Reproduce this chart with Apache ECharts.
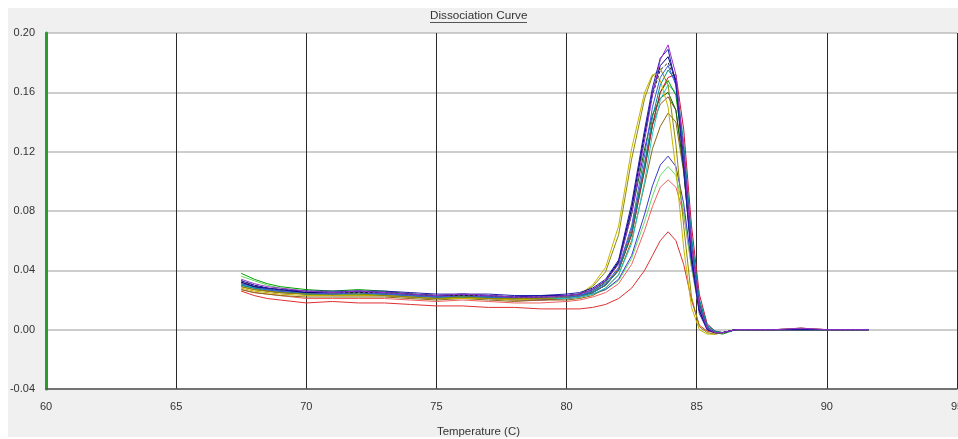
<!DOCTYPE html>
<html>
<head>
<meta charset="utf-8">
<title>Dissociation Curve</title>
<script src="https://cdn.jsdelivr.net/npm/echarts@6/dist/echarts.min.js"></script>
<style>
  html, body { margin: 0; padding: 0; background: #ffffff; }
  #panel { position: absolute; left: 8px; top: 8px; width: 950px; height: 429px; background: #f0f0f0; }
  #chart { position: absolute; left: 0; top: 0; width: 958px; height: 439px; }
</style>
</head>
<body>
<div id="panel"></div>
<div id="chart"></div>
<script>
// Melt temperatures (°C) shared by every well
const temperature = [67.5, 68, 68.5, 69, 70, 71, 72, 73, 74, 75, 76, 77, 78, 79, 80, 80.5, 81, 81.5, 82, 82.5,
  83, 83.3, 83.6, 83.9, 84.2, 84.5, 84.8, 85.1, 85.4, 85.7, 86, 86.5, 87, 88, 89, 90, 91, 91.6];

// -dF/dT for each well
const wellA = [0.034,0.031,0.029,0.028,0.026,0.025,0.026,0.025,0.024,0.023,0.024,0.023,0.022,0.022,0.023,0.024,0.027,0.033,0.044,0.078,
  0.128,0.158,0.182,0.192,0.172,0.118,0.055,0.015,0.001,-0.002,-0.002,0.000,0.000,0.000,0.001,0.000,0.000,0.000];
const wellB = [0.033,0.030,0.028,0.027,0.026,0.026,0.026,0.026,0.025,0.024,0.024,0.024,0.023,0.023,0.024,0.025,0.028,0.034,0.047,0.085,
  0.135,0.163,0.183,0.189,0.165,0.108,0.047,0.011,0.000,-0.002,-0.002,0.000,0.000,0.000,0.000,0.000,0.000,0.000];
const wellC = [0.032,0.029,0.028,0.027,0.025,0.025,0.026,0.025,0.024,0.023,0.024,0.023,0.022,0.023,0.023,0.024,0.027,0.033,0.046,0.082,
  0.132,0.160,0.178,0.184,0.168,0.115,0.050,0.013,0.000,-0.002,-0.002,0.000,0.000,0.000,0.000,0.000,0.000,0.000];
const wellD = [0.031,0.029,0.027,0.026,0.025,0.024,0.025,0.024,0.023,0.022,0.023,0.022,0.022,0.022,0.022,0.023,0.026,0.031,0.042,0.070,
  0.118,0.150,0.170,0.178,0.165,0.120,0.058,0.017,0.002,-0.002,-0.002,0.000,0.000,0.000,0.000,0.000,0.000,0.000];
const wellE = [0.030,0.028,0.027,0.026,0.024,0.024,0.024,0.024,0.023,0.022,0.022,0.022,0.021,0.021,0.022,0.023,0.025,0.030,0.040,0.066,
  0.112,0.143,0.165,0.175,0.168,0.126,0.062,0.020,0.003,-0.001,-0.002,0.000,0.000,0.000,0.000,0.000,0.000,0.000];
const wellF = [0.029,0.027,0.026,0.025,0.024,0.024,0.024,0.023,0.022,0.021,0.022,0.021,0.021,0.021,0.022,0.024,0.029,0.039,0.064,0.115,
  0.156,0.171,0.176,0.165,0.125,0.070,0.022,0.002,-0.002,-0.003,-0.002,0.000,0.000,0.000,0.000,0.000,0.000,0.000];
const wellG = [0.028,0.026,0.025,0.024,0.023,0.023,0.023,0.023,0.022,0.021,0.021,0.021,0.020,0.021,0.022,0.024,0.030,0.042,0.070,0.122,
  0.160,0.172,0.168,0.150,0.108,0.055,0.015,0.000,-0.003,-0.003,-0.002,0.000,0.000,0.000,0.000,0.000,0.000,0.000];
const wellH = [0.038,0.034,0.031,0.029,0.027,0.026,0.027,0.026,0.024,0.023,0.023,0.022,0.021,0.021,0.022,0.023,0.025,0.030,0.040,0.064,
  0.108,0.138,0.160,0.168,0.158,0.118,0.058,0.018,0.002,-0.002,-0.003,0.000,0.000,0.000,0.000,0.000,0.000,0.000];
const wellI = [0.036,0.033,0.030,0.028,0.026,0.025,0.026,0.025,0.024,0.023,0.023,0.022,0.021,0.021,0.021,0.022,0.024,0.027,0.033,0.048,
  0.073,0.090,0.104,0.110,0.104,0.080,0.042,0.013,0.001,-0.002,-0.002,0.000,0.000,0.000,0.000,0.000,0.000,0.000];
const wellJ = [0.030,0.028,0.027,0.026,0.024,0.024,0.024,0.024,0.023,0.022,0.022,0.022,0.021,0.021,0.021,0.022,0.024,0.028,0.037,0.058,
  0.100,0.132,0.155,0.165,0.160,0.122,0.062,0.020,0.003,-0.001,-0.002,0.000,0.000,0.000,0.000,0.000,0.000,0.000];
const wellK = [0.031,0.029,0.027,0.026,0.025,0.024,0.025,0.024,0.023,0.022,0.023,0.022,0.021,0.022,0.022,0.023,0.026,0.032,0.045,0.078,
  0.122,0.145,0.156,0.160,0.148,0.108,0.050,0.014,0.001,-0.002,-0.002,0.000,0.000,0.000,0.000,0.000,0.000,0.000];
const wellL = [0.029,0.027,0.026,0.025,0.024,0.023,0.023,0.023,0.022,0.021,0.022,0.021,0.020,0.020,0.021,0.022,0.025,0.030,0.041,0.068,
  0.112,0.138,0.152,0.157,0.148,0.110,0.052,0.015,0.001,-0.002,-0.002,0.000,0.000,0.000,0.001,0.000,0.000,0.000];
const wellM = [0.027,0.025,0.024,0.023,0.022,0.022,0.022,0.022,0.021,0.020,0.021,0.020,0.019,0.020,0.020,0.021,0.023,0.028,0.037,0.060,
  0.098,0.122,0.137,0.146,0.140,0.106,0.052,0.016,0.002,-0.002,-0.002,0.000,0.000,0.000,0.001,0.000,0.000,0.000];
const wellN = [0.030,0.028,0.026,0.025,0.024,0.023,0.023,0.023,0.022,0.021,0.022,0.021,0.020,0.020,0.021,0.022,0.024,0.027,0.034,0.050,
  0.078,0.097,0.111,0.117,0.110,0.085,0.045,0.014,0.001,-0.002,-0.002,0.000,0.000,0.000,0.000,0.000,0.000,0.000];
const wellO = [0.027,0.025,0.024,0.023,0.021,0.021,0.021,0.021,0.020,0.019,0.020,0.019,0.018,0.018,0.019,0.020,0.022,0.025,0.031,0.044,
  0.067,0.083,0.096,0.101,0.096,0.078,0.042,0.013,0.001,-0.002,-0.002,0.000,0.000,0.000,0.000,0.000,0.000,0.000];
const wellP = [0.026,0.023,0.021,0.020,0.018,0.019,0.018,0.018,0.017,0.016,0.016,0.015,0.015,0.014,0.014,0.014,0.015,0.017,0.021,0.028,
  0.040,0.050,0.060,0.066,0.060,0.044,0.020,0.003,-0.001,-0.002,-0.002,0.000,0.000,0.000,0.000,0.000,0.000,0.000];
const wellQ = [0.032,0.029,0.027,0.026,0.025,0.024,0.025,0.024,0.023,0.022,0.023,0.022,0.021,0.022,0.022,0.023,0.025,0.030,0.040,0.064,
  0.108,0.138,0.160,0.170,0.172,0.135,0.070,0.024,0.004,-0.001,-0.002,0.000,0.000,0.000,0.000,0.000,0.000,0.000];
const wellR = [0.033,0.030,0.028,0.027,0.026,0.025,0.025,0.025,0.024,0.023,0.023,0.023,0.022,0.022,0.023,0.024,0.027,0.033,0.045,0.080,
  0.130,0.158,0.175,0.180,0.168,0.118,0.055,0.016,0.001,-0.002,-0.002,0.000,0.000,0.000,0.000,0.000,0.000,0.000];

const wells = [
  { data: wellP, color: '#e03030' },
  { data: wellO, color: '#f06060' },
  { data: wellI, color: '#66dd66' },
  { data: wellN, color: '#3838d0' },
  { data: wellM, color: '#8b6914' },
  { data: wellL, color: '#a0522d' },
  { data: wellK, color: '#006400' },
  { data: wellJ, color: '#20c8c8' },
  { data: wellH, color: '#00a000' },
  { data: wellQ, color: '#c8143c' },
  { data: wellE, color: '#008b8b' },
  { data: wellG, color: '#c8b400' },
  { data: wellF, color: '#8b8b00' },
  { data: wellD, color: '#3a5fe0' },
  { data: wellR, color: '#202020', dashed: true },
  { data: wellC, color: '#000080' },
  { data: wellB, color: '#1c1ca8' },
  { data: wellA, color: '#9a32cd' }
];

const xTicks = { min: 60, max: 95, step: 5 };
const yTicks = { min: -0.04, max: 0.20, step: 0.04 };

const chart = echarts.init(document.getElementById('chart'), null, { renderer: 'canvas' });

const series = wells.map(function (w) {
  return {
    type: 'line',
    data: temperature.map(function (t, i) { return [t, w.data[i]]; }),
    showSymbol: false,
    symbol: 'none',
    smooth: false,
    lineStyle: { color: w.color, width: 1, type: w.dashed ? [3, 2] : 'solid' },
    silent: true
  };
});

chart.setOption({
  animation: false,
  backgroundColor: 'transparent',
  textStyle: { fontFamily: 'Liberation Sans, Arial, sans-serif' },
  grid: {
    left: 46, right: 1, top: 33, bottom: 50,
    outerBoundsMode: 'none',
    containLabel: false,
    show: true, backgroundColor: '#ffffff', borderWidth: 0
  },
  xAxis: {
    type: 'value',
    min: xTicks.min, max: xTicks.max, interval: xTicks.step,
    axisLine: { show: true, onZero: false, lineStyle: { color: '#555555', width: 1.5 } },
    axisTick: { show: false },
    splitLine: { show: true, lineStyle: { color: '#2a2a2a', width: 1 } },
    axisLabel: { color: '#333333', fontSize: 11, margin: 12, showMaxLabel: true, showMinLabel: true }
  },
  yAxis: {
    type: 'value',
    min: yTicks.min, max: yTicks.max, interval: yTicks.step,
    axisLine: { show: true, onZero: false, lineStyle: { color: '#2e9b2e', width: 3 } },
    axisTick: { show: false },
    splitLine: { show: true, lineStyle: { color: '#bdbdbd', width: 1.5 } },
    axisLabel: {
      color: '#333333', fontSize: 11, margin: 11,
      formatter: function (v) { return Math.abs(v) < 1e-9 ? '0.00' : v.toFixed(2); }
    }
  },
  graphic: [
    {
      type: 'text', left: 430, top: 10,
      style: { text: 'Dissociation Curve', fill: '#333333', font: '11.7px "Liberation Sans", Arial, sans-serif' }
    },
    {
      type: 'line', shape: { x1: 430, y1: 22.5, x2: 527, y2: 22.5 },
      style: { stroke: '#555555', lineWidth: 1 }
    },
    {
      type: 'text', left: 437, top: 426,
      style: { text: 'Temperature (C)', fill: '#333333', font: '11.4px "Liberation Sans", Arial, sans-serif' }
    }
  ],
  series: series
});
</script>
</body>
</html>
